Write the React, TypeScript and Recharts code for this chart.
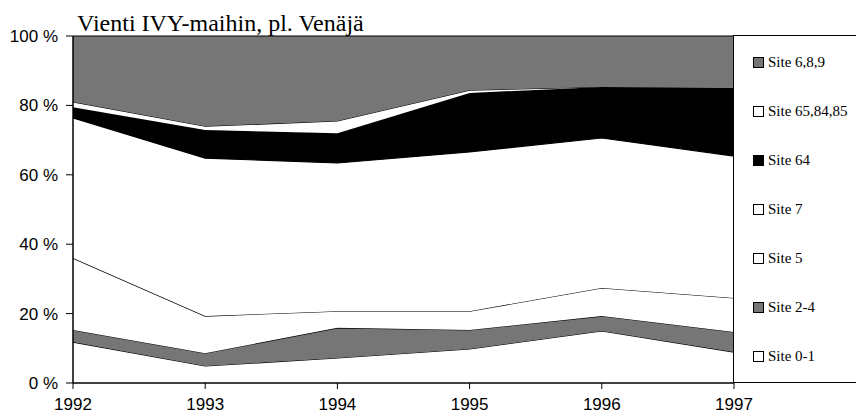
import React from "react";
import { AreaChart, Area, XAxis, YAxis } from "recharts";

const years = [1992, 1993, 1994, 1995, 1996, 1997];
const site01 = [11.8, 4.9, 7.2, 9.8, 15.0, 8.9];
const site24 = [3.5, 3.7, 8.7, 5.5, 4.3, 5.8];
const site5 = [20.7, 10.7, 4.8, 5.4, 8.1, 9.8];
const site7 = [40.4, 45.5, 42.7, 45.9, 43.2, 40.9];
const site64 = [3.1, 8.1, 8.6, 17.0, 14.7, 19.6];
const site658485 = [1.5, 1.1, 3.5, 0.8, 0.0, 0.3];
const site689 = [19.0, 26.0, 24.5, 15.6, 14.7, 14.7];
const yTicks = [0, 20, 40, 60, 80, 100];
const title = "Vienti IVY-maihin, pl. Venäjä";

const GRAY = "#767676";

const series = [
  { key: "s01", name: "Site 0-1", values: site01, fill: "#ffffff" },
  { key: "s24", name: "Site 2-4", values: site24, fill: GRAY },
  { key: "s5", name: "Site 5", values: site5, fill: "#ffffff" },
  { key: "s7", name: "Site 7", values: site7, fill: "#ffffff" },
  { key: "s64", name: "Site 64", values: site64, fill: "#000000" },
  { key: "s65", name: "Site 65,84,85", values: site658485, fill: "#ffffff" },
  { key: "s689", name: "Site 6,8,9", values: site689, fill: GRAY },
];

const data = years.map((y, i) => {
  const row: any = { year: y };
  series.forEach((s) => (row[s.key] = s.values[i]));
  return row;
});

const tickStyle = { fontFamily: "Liberation Sans, Arial, sans-serif", fontSize: 17, fill: "#000" };

export default function App() {
  const legendItems = [...series].reverse();
  return (
    <div style={{ position: "absolute", left: 0, top: 0, width: 856, height: 419, background: "#fff", overflow: "hidden" }}>
      <AreaChart
        width={856}
        height={419}
        data={data}
        margin={{ top: 36, right: 122, bottom: 0, left: 0 }}
      >
        <XAxis
          dataKey="year"
          type="number"
          domain={[1992, 1997]}
          ticks={years}
          tick={tickStyle}
          tickLine={{ stroke: "#000" }}
          axisLine={{ stroke: "#000", strokeWidth: 1.5 }}
          tickSize={6}
          tickMargin={9}
          height={36}
          allowDecimals={false}
        />
        <YAxis
          domain={[0, 100]}
          ticks={yTicks}
          tick={tickStyle}
          tickFormatter={(v: number) => `${v} %`}
          tickLine={{ stroke: "#000" }}
          axisLine={{ stroke: "#000", strokeWidth: 1.5 }}
          tickSize={7}
          tickMargin={8}
          width={73}
        />
        {series.map((s) => (
          <Area
            key={s.key}
            dataKey={s.key}
            name={s.name}
            stackId="1"
            type="linear"
            fill={s.fill}
            fillOpacity={1}
            stroke="#000"
            strokeWidth={1.2}
            isAnimationActive={false}
          />
        ))}
      </AreaChart>
      <div
        style={{
          position: "absolute",
          left: 77,
          top: 11,
          fontFamily: "Liberation Serif, Times New Roman, serif",
          fontSize: 24,
          lineHeight: "24px",
          color: "#000",
          whiteSpace: "nowrap",
        }}
      >
        {title}
      </div>
      <div
        style={{
          position: "absolute",
          left: 733,
          top: 35,
          width: 140,
          height: 348,
          borderLeft: "1.5px solid #000",
          borderTop: "1px solid #000",
          borderBottom: "1.5px solid #000",
          boxSizing: "border-box",
        }}
      >
        {legendItems.map((s, i) => (
          <div
            key={s.key}
            style={{
              position: "absolute",
              left: 19,
              top: 18 + i * 49,
              display: "flex",
              alignItems: "center",
              fontFamily: "Liberation Serif, Times New Roman, serif",
              fontSize: 15,
              whiteSpace: "nowrap",
              color: "#000",
            }}
          >
            <span
              style={{
                display: "inline-block",
                width: 9,
                height: 9,
                border: "1.2px solid #000",
                background: s.fill,
                marginRight: 4,
              }}
            />
            {s.name}
          </div>
        ))}
      </div>
    </div>
  );
}
